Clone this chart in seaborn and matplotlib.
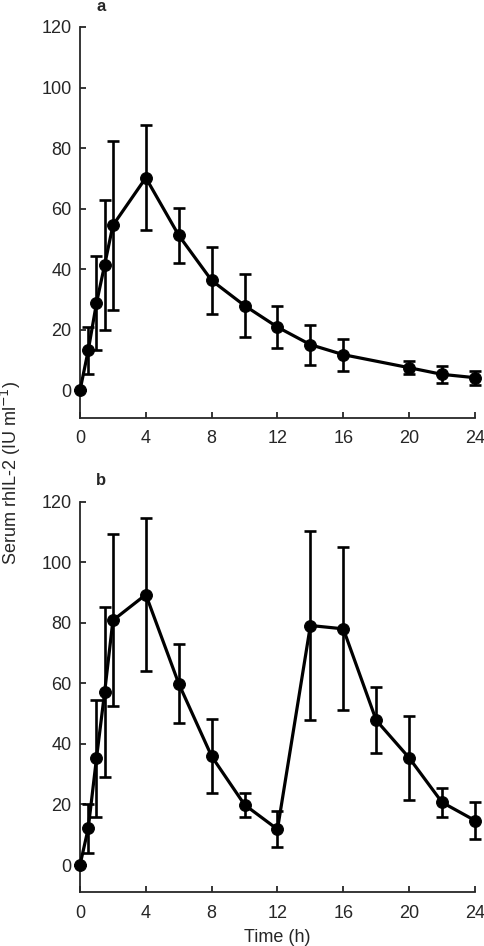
import matplotlib
matplotlib.use("Agg")
import matplotlib.pyplot as plt
import seaborn as sns
import pandas as pd

sns.set_style("ticks")
plt.rcParams['font.family'] = ['Liberation Sans', 'DejaVu Sans']

time_h = [0, 0.5, 1, 1.5, 2, 4, 6, 8, 10, 12, 14, 16, 20, 22, 24]
conc_a = [0, 13.2, 28.8, 41.5, 54.5, 70.2, 51.2, 36.3, 28.0, 20.9, 15.1, 11.8, 7.5, 5.3, 4.2]
sd_a = [0, 7.7, 15.5, 21.5, 28.0, 17.3, 9.0, 11.0, 10.3, 7.0, 6.6, 5.3, 2.2, 2.7, 2.3]

time_h_b = [0, 0.5, 1, 1.5, 2, 4, 6, 8, 10, 12, 14, 16, 18, 20, 22, 24]
conc_b = [0, 12.1, 35.2, 57.2, 80.8, 89.3, 59.9, 35.9, 19.9, 11.8, 79.1, 78.0, 47.8, 35.4, 20.7, 14.7]
sd_b = [0, 8.1, 19.2, 28.0, 28.4, 25.3, 13.1, 12.2, 4.0, 6.0, 31.2, 26.9, 10.9, 13.9, 4.8, 6.2]

panels = [
    ("a", pd.DataFrame({"t": time_h, "c": conc_a, "sd": sd_a})),
    ("b", pd.DataFrame({"t": time_h_b, "c": conc_b, "sd": sd_b})),
]

fig = plt.figure(figsize=(4.84, 9.46), dpi=100)
ax_a = fig.add_axes([0.1653, 0.5585, 0.816, 0.413])
ax_b = fig.add_axes([0.1653, 0.0568, 0.816, 0.4129])

# panel letters: baseline position in pixels from top
letter_y = {"a": 11, "b": 485}

for ax, (lab, df) in zip([ax_a, ax_b], panels):
    ax.errorbar(df["t"], df["c"], yerr=df["sd"], fmt="none", ecolor="black",
                elinewidth=1.9, capsize=4, capthick=1.9, zorder=2, clip_on=False)
    sns.lineplot(data=df, x="t", y="c", ax=ax, color="black", linewidth=2.3,
                 marker="o", markersize=8.5, markeredgecolor="black", zorder=3,
                 clip_on=False)
    ax.set_xlim(0, 24)
    ax.set_ylim(-9, 120)
    ax.set_xticks(range(0, 25, 4))
    ax.set_yticks(range(0, 121, 20))
    ax.tick_params(direction="in", length=4.5, width=1.3, labelsize=13, pad=6)
    ax.tick_params(axis="x", pad=9)
    for s in ["left", "bottom"]:
        ax.spines[s].set_linewidth(1.3)
    sns.despine(ax=ax)
    ax.set_xlabel("")
    ax.set_ylabel("")
    fig.text(101 / 484, 1 - letter_y[lab] / 946, lab, fontsize=12,
             fontweight="bold", ha="center", va="baseline")

ax_b.set_xlabel("Time (h)", fontsize=13, labelpad=5)
fig.text(0.022, 0.5, "Serum rhIL-2 (IU ml$^{-1}$)", rotation=90,
         ha="center", va="center", fontsize=13)

fig.savefig("out.png", dpi=100)
